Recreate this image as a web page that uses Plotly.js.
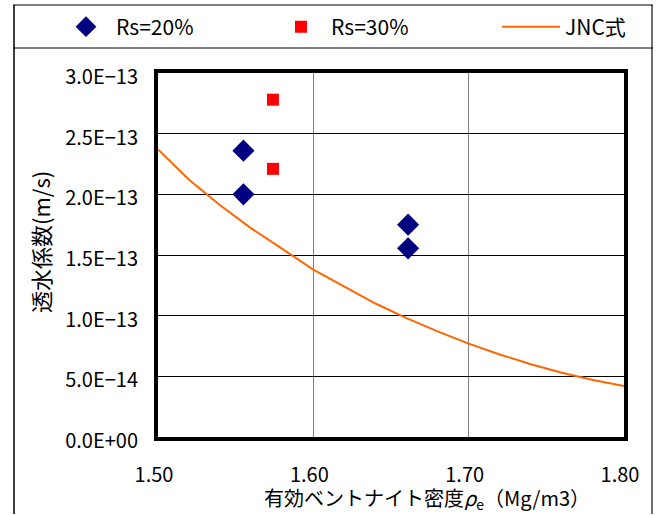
<!DOCTYPE html>
<html>
<head>
<meta charset="utf-8">
<script src="https://cdn.plot.ly/plotly-3.0.1.min.js"></script>
<style>html,body{margin:0;padding:0;background:#fff;}#chart{width:661px;height:515px;}</style>
</head>
<body>
<div id="chart"></div>
<script>
// Rs=20% measurements
const rs20X = [1.555, 1.555, 1.661, 1.661];
const rs20Y = [2.36e-13, 2.00e-13, 1.75e-13, 1.555e-13];
// Rs=30% measurements
const rs30X = [1.574, 1.574];
const rs30Y = [2.78e-13, 2.21e-13];
// JNC式 curve
const jncX = [1.50, 1.52, 1.54, 1.56, 1.58, 1.60, 1.62, 1.64, 1.66, 1.68, 1.70, 1.72, 1.74, 1.76, 1.78, 1.80];
const jncY = [2.37e-13, 2.12e-13, 1.91e-13, 1.72e-13, 1.55e-13, 1.38e-13, 1.24e-13, 1.10e-13, 0.98e-13, 0.87e-13, 0.77e-13, 0.68e-13, 0.60e-13, 0.53e-13, 0.47e-13, 0.42e-13];
// ticks
const xTickVals = [1.50, 1.60, 1.70, 1.80];
const xTickText = ['1.50', '1.60', '1.70', '1.80'];
const yTickVals = [0, 0.5e-13, 1.0e-13, 1.5e-13, 2.0e-13, 2.5e-13, 3.0e-13];
const yTickText = ['0.0E+00', '5.0E\u221214', '1.0E\u221213', '1.5E\u221213', '2.0E\u221213', '2.5E\u221213', '3.0E\u221213'];

const FONT = '"Noto Sans CJK JP", "Noto Sans", sans-serif';
const FS = 20;

const traces = [
  {x: rs20X, y: rs20Y, name: 'Rs=20%', type: 'scatter', mode: 'markers', legend: 'legend',
   marker: {symbol: 'diamond', size: 17, color: '#000080'}},
  {x: rs30X, y: rs30Y, name: 'Rs=30%', type: 'scatter', mode: 'markers', legend: 'legend2',
   marker: {symbol: 'square', size: 12, color: '#FF0000'}},
  {x: jncX, y: jncY, name: 'JNC式', type: 'scatter', mode: 'lines', legend: 'legend3',
   line: {color: '#FF6600', width: 2}}
];

const L = 158, R = 624, T = 73, B = 437;
const W = 661, H = 515;
const pw = R - L, ph = B - T;
function px(x) { return (x - L) / pw; }
function py(y) { return (B - y) / ph; }

function leg(leftPx, iw) {
  return {
    orientation: 'h', x: px(leftPx), xanchor: 'left', y: py(27), yanchor: 'middle',
    itemwidth: iw,
    font: {family: FONT, size: 21, color: '#000'},
    bgcolor: 'rgba(0,0,0,0)', borderwidth: 0
  };
}

const layout = {
  width: W, height: H,
  margin: {l: L, r: W - R, t: T, b: H - B, pad: 0, autoexpand: false},
  paper_bgcolor: '#fff', plot_bgcolor: '#fff',
  font: {family: FONT, size: FS, color: '#000'},
  showlegend: true,
  legend: leg(56, 50),
  legend2: leg(271, 50),
  legend3: leg(497, 58),
  xaxis: {
    range: [1.50, 1.80], tickvals: xTickVals, ticktext: xTickText,
    showgrid: true, gridcolor: '#808080', gridwidth: 1.5,
    showline: true, linecolor: '#000', linewidth: 4, mirror: true,
    ticks: '', ticklabelstandoff: 17, ticklabelshift: -4, zeroline: false,
    tickfont: {family: FONT, size: FS, color: '#000'}
  },
  yaxis: {
    range: [0, 3.0e-13], tickvals: yTickVals, ticktext: yTickText,
    showgrid: true, gridcolor: '#000', gridwidth: 1,
    showline: true, linecolor: '#000', linewidth: 4, mirror: true,
    ticks: '', ticklabelstandoff: 12, ticklabelshift: 4, zeroline: false,
    tickfont: {family: FONT, size: FS, color: '#000'}
  },
  annotations: [
    {xref: 'paper', yref: 'paper', x: px(427), y: py(498), xanchor: 'center', yanchor: 'middle',
     text: '有効ベントナイト密度<i>ρ</i><sub>e</sub>（Mg/m3）', showarrow: false,
     font: {family: FONT, size: FS, color: '#000'}},
    {xref: 'paper', yref: 'paper', x: px(40), y: py(242), xanchor: 'center', yanchor: 'middle',
     text: '透水係数(m/s)', textangle: -90, showarrow: false,
     font: {family: FONT, size: 22, color: '#000'}}
  ],
  shapes: [
    {type: 'line', xref: 'paper', yref: 'paper', x0: px(14), x1: px(14), y0: py(5), y1: py(514), line: {color: '#404040', width: 2}},
    {type: 'line', xref: 'paper', yref: 'paper', x0: px(652), x1: px(652), y0: py(5), y1: py(514), line: {color: '#404040', width: 1.5}},
    {type: 'line', xref: 'paper', yref: 'paper', x0: px(13), x1: px(653), y0: py(5), y1: py(5), line: {color: '#000', width: 1}},
    {type: 'line', xref: 'paper', yref: 'paper', x0: px(13), x1: px(653), y0: py(48), y1: py(48), line: {color: '#000', width: 1}}
  ]
};

Plotly.newPlot('chart', traces, layout, {displayModeBar: false, staticPlot: true});
</script>
</body>
</html>
